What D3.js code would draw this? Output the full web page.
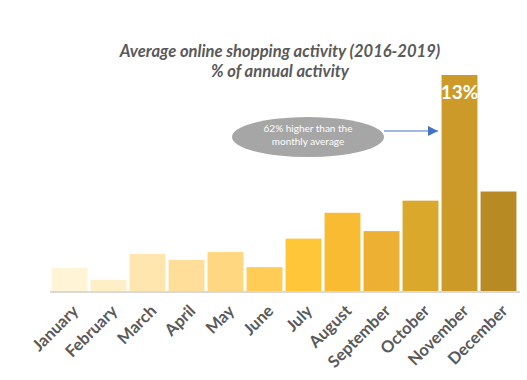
<!DOCTYPE html>
<html><head><meta charset="utf-8">
<script src="https://cdn.jsdelivr.net/npm/d3@7"></script>
<style>html,body{margin:0;padding:0;background:#fff;}svg{display:block;}</style>
</head><body>
<svg id="c" width="527" height="380"></svg>
<script>
const months = ["January","February","March","April","May","June","July","August","September","October","November","December"];
const shares = [7.11,6.74,7.53,7.35,7.59,7.13,8.00,8.79,8.23,9.16,13.0,9.44];
const barColors = ["#FFF4D6","#FFEEC6","#FFE6AE","#FFDE99","#FFD780","#FFCD55","#FFC637","#F9BB32","#EDB032","#DAA82A","#CB9A28","#B88A24"];
const titleLines = ["Average online shopping activity (2016-2019)","% of annual activity"];
const calloutLines = ["62% higher than the","monthly average"];
const peakLabel = "13%";

const svg = d3.select("#c");
const font = "Lato, 'Open Sans', sans-serif";
const x = d3.scaleBand().domain(months).range([50, 518]).paddingInner(0.08).paddingOuter(0.04);
const y = d3.scaleLinear().domain([6.4, 13]).range([291, 75]);

// title
svg.append("g").selectAll("text").data(titleLines).join("text")
  .attr("x", 280).attr("y", (d,i) => 57 + i*20)
  .attr("text-anchor","middle")
  .attr("font-family", font).attr("font-style","italic").attr("font-weight","bold")
  .attr("font-size", 16.6).attr("fill","#595959").text(d => d);

// bars
svg.append("g").selectAll("rect").data(months).join("rect")
  .attr("x", d => x(d)).attr("width", x.bandwidth())
  .attr("y", (d,i) => y(shares[i])).attr("height", (d,i) => y.range()[0] - y(shares[i]))
  .attr("fill", (d,i) => barColors[i]);

// baseline
svg.append("line").attr("x1", 50).attr("x2", 520).attr("y1", 292).attr("y2", 292)
  .attr("stroke","#D9D9D9").attr("stroke-width",2);

// x axis labels
const ax = svg.append("g").attr("transform","translate(0,292)")
  .call(d3.axisBottom(x).tickSize(0).tickPadding(0));
ax.select(".domain").remove();
ax.selectAll("text")
  .attr("font-family", font).attr("font-weight","bold").attr("font-size", 16.5)
  .attr("fill","#595959")
  .attr("text-anchor","end").attr("dy", 0)
  .attr("transform","translate(10,20) rotate(-45)");

// peak label
const peakIdx = shares.indexOf(d3.max(shares));
svg.append("text")
  .attr("x", x(months[peakIdx]) + x.bandwidth()/2).attr("y", y(shares[peakIdx]) + 24)
  .attr("text-anchor","middle").attr("font-family", font).attr("font-weight","bold")
  .attr("font-size", 19).attr("fill","#fff").text(peakLabel);

// callout
svg.append("ellipse").attr("cx", 308).attr("cy", 137).attr("rx", 76).attr("ry", 20).attr("fill","#A6A6A6");
svg.append("g").selectAll("text").data(calloutLines).join("text")
  .attr("x", 308).attr("y", (d,i) => 132 + i*12.5)
  .attr("text-anchor","middle").attr("font-family", font).attr("font-size", 10)
  .attr("fill","#fff").text(d => d);
const defs = svg.append("defs");
defs.append("marker").attr("id","ah").attr("viewBox","0 0 10 10").attr("refX",10).attr("refY",5)
  .attr("markerWidth",10).attr("markerHeight",10).attr("markerUnits","userSpaceOnUse").attr("orient","auto")
  .append("path").attr("d","M0,0L10,5L0,10Z").attr("fill","#4472C4");
svg.append("line").attr("x1", 384).attr("x2", 438).attr("y1", 131).attr("y2", 131)
  .attr("stroke","#4472C4").attr("stroke-width",1.2).attr("marker-end","url(#ah)");
</script>
</body></html>
